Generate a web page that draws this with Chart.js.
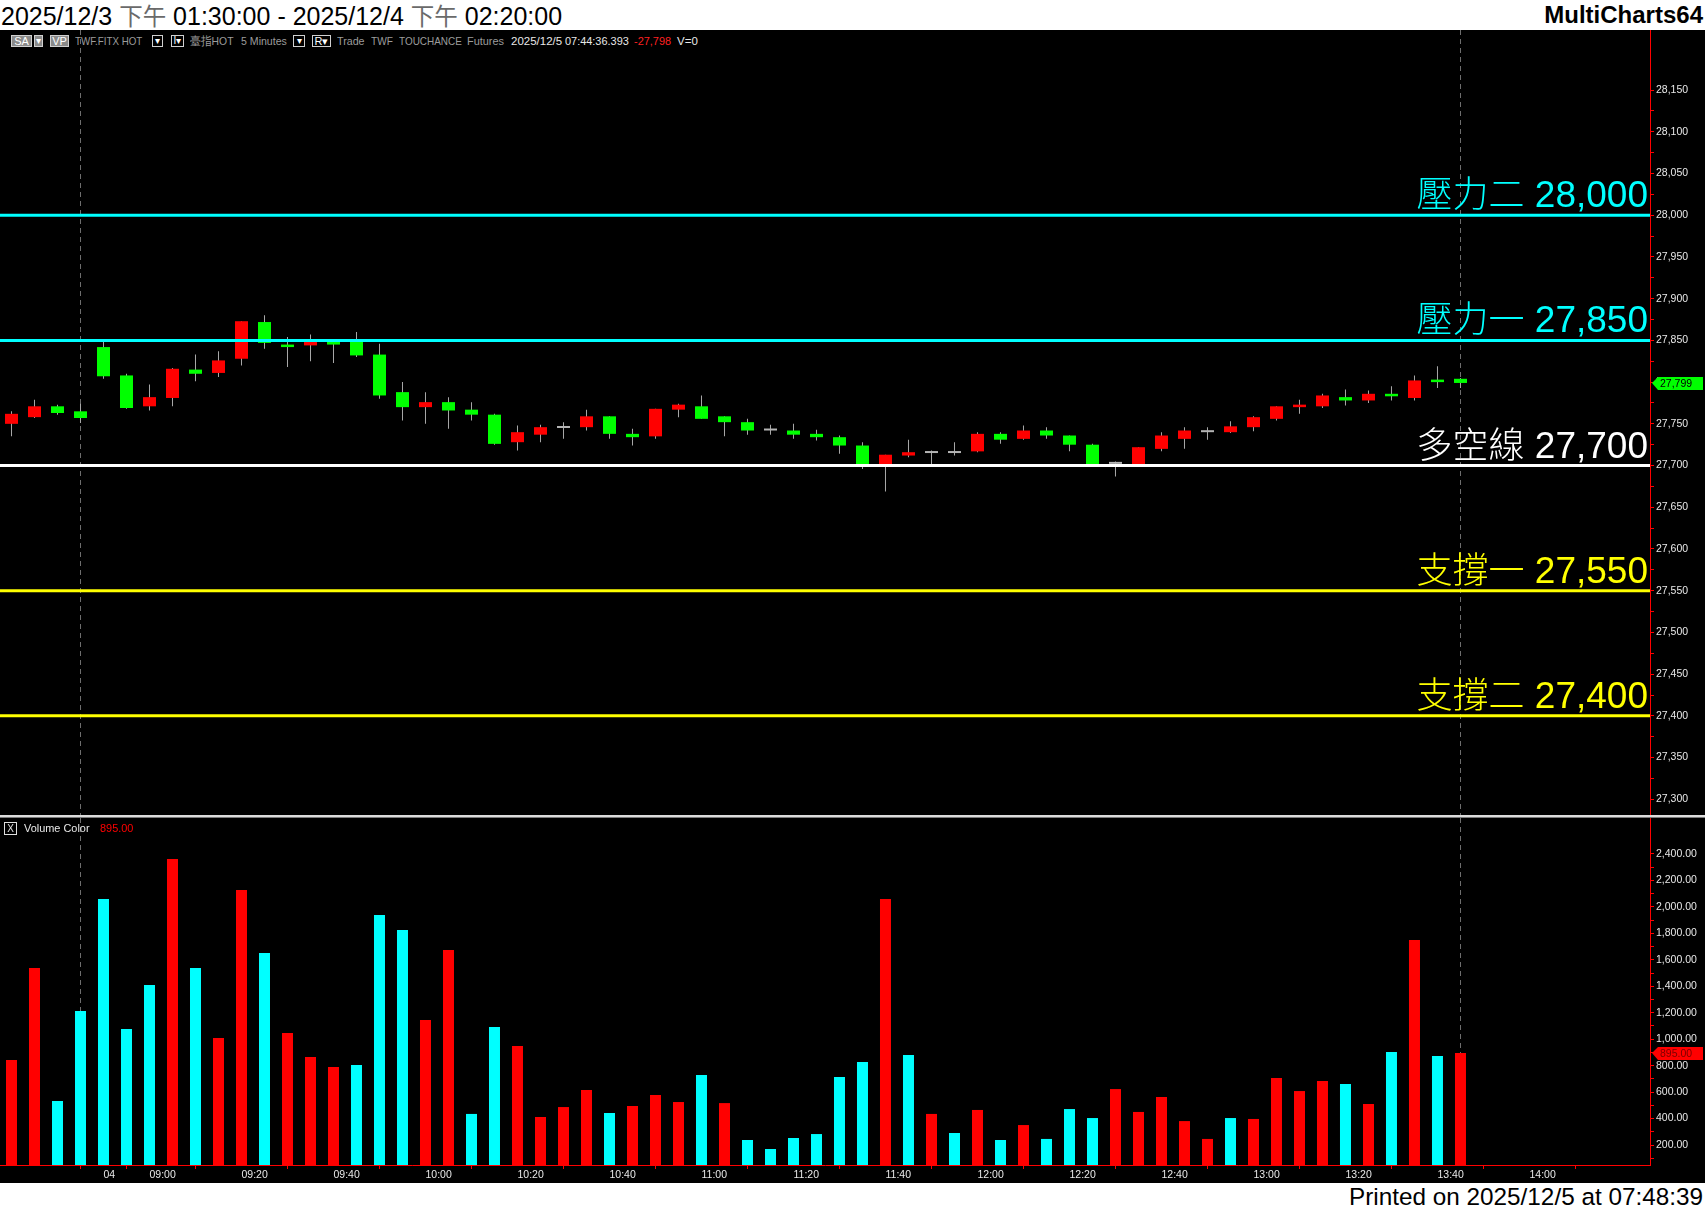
<!DOCTYPE html>
<html>
<head>
<meta charset="utf-8">
<title>TWF.FITX HOT 5 Minutes</title>
<script src="https://cdn.jsdelivr.net/npm/chart.js@4.4.1/dist/chart.umd.min.js"></script>
<style>
  html, body { margin: 0; padding: 0; background: #fff; }
  body { position: relative; width: 1705px; height: 1211px; overflow: hidden; font-family: 'Liberation Sans', Arial, sans-serif; }
  .abs { position: absolute; white-space: nowrap; }
  #title { left: 1px; top: 0; line-height: 30px; font-size: 25px; color: #000; }
  #title .cjk { font-family: 'Noto Sans CJK TC', sans-serif; font-size: 23.5px; color: #6a6a6a; }
  #brand { right: 2px; top: 0; line-height: 30px; font-size: 24px; font-weight: bold; color: #000; }
  #screen { left: 0; top: 30px; width: 1705px; height: 1153px; background: #000; }
  #footer { right: 2px; top: 1183px; line-height: 27px; font-size: 24.3px; color: #000; }
  .info { top: 35px; height: 12px; line-height: 12px; font-size: 11.5px; color: #9c9c9c;
          transform: scaleX(var(--s, 1)); transform-origin: 0 50%; }
  .info.hi { color: #e8e8e8; }
  .box { top: 35px; height: 10px; line-height: 10px; font-size: 10px; text-align: center; color: #fff; border: 1px solid #d0d0d0; }
  .box.grey { background: #8a8a8a; }
  #sep1 { left: 0; top: 815px; width: 1705px; height: 2px; background: #dcdcdc; }
  #sep2 { left: 0; top: 817px; width: 1705px; height: 1px; background: #7a7a7a; }
  canvas { position: absolute; left: 0; }
</style>
</head>
<body>
<div id="title" class="abs">2025/12/3 <span class="cjk">下午</span> 01:30:00 - 2025/12/4 <span class="cjk">下午</span> 02:20:00</div>
<div id="brand" class="abs">MultiCharts64</div>
<div id="screen" class="abs"></div>
<div id="footer" class="abs">Printed on 2025/12/5 at 07:48:39</div>

<div class="abs box grey" style="left:11px;width:19px;font-size:11px">SA</div>
<div class="abs box grey" style="left:34px;width:7px">▾</div>
<div class="abs box grey" style="left:50px;width:17px;font-size:11px">VP</div>
<div class="abs info" style="left:75px;--s:0.85">TWF.FITX HOT</div>
<div class="abs box" style="left:152px;width:9px">▾</div>
<div class="abs box" style="left:171px;width:11px">I▾</div>
<div class="abs info" style="left:190px;--s:0.9">臺指HOT</div>
<div class="abs info" style="left:241px;--s:0.92">5 Minutes</div>
<div class="abs box" style="left:293px;width:10px">▾</div>
<div class="abs box" style="left:312px;width:17px;font-size:11px">R▾</div>
<div class="abs info" style="left:337px;--s:0.93">Trade</div>
<div class="abs info" style="left:371px;--s:0.88">TWF</div>
<div class="abs info" style="left:399px;--s:0.865">TOUCHANCE</div>
<div class="abs info" style="left:467px;--s:0.95">Futures</div>
<div class="abs info hi" style="left:511px">2025/12/5</div>
<div class="abs info hi" style="left:565px;--s:0.95">07:44:36.393</div>
<div class="abs info" style="left:634px;--s:0.95;color:#ff2020">-27,798</div>
<div class="abs info hi" style="left:677px">V=0</div>

<canvas id="price" width="1705" height="785" style="top:30px"></canvas>
<div id="sep1" class="abs"></div>
<div id="sep2" class="abs"></div>
<canvas id="volume" width="1705" height="365" style="top:818px"></canvas>

<div class="abs" style="left:4px;top:822px;width:11px;height:11px;border:1px solid #e0e0e0;color:#e0e0e0;font-size:10px;line-height:11px;text-align:center">X</div>
<div class="abs info hi" style="left:24px;top:822px;--s:0.95">Volume Color</div>
<div class="abs info" style="left:100px;top:822px;--s:0.95;color:#ff0000">895.00</div>

<script>
// 5 分鐘 K 線 (bar 0..63)
const opens  = [27750, 27758, 27771, 27765, 27842, 27808, 27771, 27781, 27815, 27811,
                27828, 27872, 27845, 27844, 27849, 27849, 27833, 27788, 27770, 27776,
                27767, 27761, 27728, 27737, 27745, 27746, 27759, 27738, 27735, 27767,
                27771, 27759, 27752, 27742, 27742, 27738, 27734, 27724, 27701, 27712,
                27715, 27715, 27717, 27738, 27732, 27742, 27736, 27725, 27702, 27701,
                27720, 27732, 27740, 27740, 27746, 27756, 27770, 27771, 27782, 27778,
                27786, 27781, 27803, 27804];
const highs  = [27765, 27779, 27773, 27774, 27848, 27810, 27797, 27817, 27833, 27837,
                27873, 27880, 27854, 27857, 27851, 27860, 27846, 27800, 27788, 27782,
                27776, 27762, 27748, 27749, 27752, 27767, 27759, 27744, 27768, 27774,
                27784, 27759, 27756, 27749, 27750, 27743, 27736, 27728, 27713, 27731,
                27718, 27728, 27740, 27740, 27748, 27746, 27736, 27726, 27705, 27722,
                27740, 27746, 27746, 27753, 27759, 27771, 27779, 27786, 27791, 27790,
                27795, 27808, 27819, 27805];
const lows   = [27735, 27757, 27761, 27751, 27804, 27768, 27766, 27771, 27801, 27806,
                27820, 27840, 27818, 27825, 27823, 27830, 27780, 27754, 27750, 27744,
                27754, 27725, 27718, 27728, 27732, 27742, 27732, 27724, 27732, 27758,
                27756, 27735, 27737, 27737, 27732, 27730, 27714, 27696, 27669, 27710,
                27702, 27712, 27716, 27726, 27731, 27732, 27717, 27699, 27687, 27700,
                27717, 27720, 27731, 27739, 27741, 27754, 27762, 27769, 27772, 27775,
                27778, 27778, 27793, 27793];
const closes = [27762, 27771, 27763, 27757, 27807, 27769, 27782, 27816, 27810, 27826,
                27873, 27847, 27842, 27849, 27845, 27832, 27784, 27770, 27776, 27766,
                27761, 27726, 27740, 27746, 27745, 27759, 27738, 27734, 27768, 27773,
                27756, 27752, 27742, 27742, 27737, 27734, 27724, 27700, 27713, 27716,
                27715, 27715, 27738, 27731, 27742, 27736, 27725, 27700, 27702, 27722,
                27736, 27742, 27740, 27747, 27758, 27771, 27773, 27784, 27778, 27786,
                27783, 27802, 27800, 27799];

const volumes = [843, 1538, 533, 1213, 2060, 1077, 1410, 2362, 1538, 1009,
                 2128, 1652, 1047, 866, 790, 805, 1939, 1826, 1145, 1674,
                 435, 1092, 949, 412, 487, 616, 442, 495, 578, 525,
                 729, 517, 238, 170, 253, 283, 714, 828, 2060, 881,
                 435, 291, 465, 238, 351, 246, 472, 404, 623, 450,
                 563, 381, 246, 404, 397, 707, 608, 684, 661, 510,
                 903, 1750, 873, 895];
// Volume Color: 1 = red, 0 = cyan
const volumeUp = [1, 1, 0, 0, 0, 0, 0, 1, 0, 1,
                  1, 0, 1, 1, 1, 0, 0, 0, 1, 1,
                  0, 0, 1, 1, 1, 1, 0, 1, 1, 1,
                  0, 1, 0, 0, 0, 0, 0, 0, 1, 0,
                  1, 0, 1, 0, 1, 0, 0, 0, 1, 1,
                  1, 1, 1, 0, 1, 1, 1, 1, 0, 1,
                  0, 1, 0, 1];

const timeTickBars   = [4, 6, 10, 14, 18, 22, 26, 30, 34, 38, 42, 46, 50, 54, 58, 62, 66];
const timeTickLabels = ['04', '09:00', '09:20', '09:40', '10:00', '10:20', '10:40', '11:00', '11:20',
                        '11:40', '12:00', '12:20', '12:40', '13:00', '13:20', '13:40', '14:00'];
const sessionMarks = [3, 63];

const levels      = [28000, 27850, 27700, 27550, 27400];
const levelNames  = ['壓力二', '壓力一', '多空線', '支撐一', '支撐二'];
const levelColors = ['#00ffff', '#00ffff', '#ffffff', '#ffff00', '#ffff00'];

// --- view ranges ---
const xMin = -0.5, xMax = 71.24;
const priceMin = 27281.2, priceMax = 28222;
const volMin = 49, volMax = 2672;

const FONT = "'Liberation Sans', Arial, sans-serif";
const AXIS_TEXT = '#e8e8e8';
const RED = '#ff0000', GREEN = '#00ff00', CYAN = '#00ffff', DOJI = '#b4b4b4';

const bodyColors = opens.map((o, i) => closes[i] > o ? RED : closes[i] < o ? GREEN : DOJI);

// dashed session lines
const sessionPlugin = {
    id: 'sessionLines',
    beforeDatasetsDraw(chart) {
        const {ctx, chartArea, scales} = chart;
        ctx.save();
        ctx.strokeStyle = '#6e6e6e';
        ctx.lineWidth = 1;
        ctx.setLineDash([5, 4]);
        sessionMarks.forEach(b => {
            const x = Math.round(scales.x.getPixelForValue(b)) + 0.5;
            ctx.beginPath();
            ctx.moveTo(x, chartArea.top);
            ctx.lineTo(x, chartArea.bottom);
            ctx.stroke();
        });
        ctx.restore();
    }
};

// price tag on the right axis
function drawTag(chart, value, text, bg, fg) {
    const {ctx, chartArea, scales} = chart;
    const y = Math.round(scales.y.getPixelForValue(value));
    const x0 = chartArea.right + 2;
    ctx.save();
    ctx.fillStyle = bg;
    ctx.beginPath();
    ctx.moveTo(x0, y);
    ctx.lineTo(x0 + 6, y - 6);
    ctx.lineTo(1703, y - 6);
    ctx.lineTo(1703, y + 7);
    ctx.lineTo(x0 + 6, y + 7);
    ctx.closePath();
    ctx.fill();
    ctx.fillStyle = fg;
    ctx.font = '10.5px ' + FONT;
    ctx.textBaseline = 'middle';
    ctx.textAlign = 'left';
    ctx.fillText(text, x0 + 8, y + 1);
    ctx.restore();
}

const levelLabelPlugin = {
    id: 'levelLabels',
    afterDatasetsDraw(chart) {
        const {ctx, chartArea, scales} = chart;
        ctx.save();
        ctx.textBaseline = 'alphabetic';
        ctx.textAlign = 'right';
        levels.forEach((lv, i) => {
            const y = scales.y.getPixelForValue(lv) - 8;
            const right = chartArea.right - 2;
            const num = lv.toLocaleString('en-US');
            ctx.fillStyle = levelColors[i];
            ctx.font = '37px ' + FONT;
            ctx.fillText(num, right, y);
            const shift = ctx.measureText(num).width + ctx.measureText(' ').width;
            ctx.font = "300 36px 'Noto Sans CJK TC', sans-serif";
            ctx.fillText(levelNames[i], right - shift, y);
        });
        ctx.restore();
    },
    afterDraw(chart) {
        const last = closes.length - 1;
        drawTag(chart, closes[last], closes[last].toLocaleString('en-US'), GREEN, '#000');
    }
};

const volumeTagPlugin = {
    id: 'volumeTag',
    afterDraw(chart) {
        const last = volumes.length - 1;
        drawTag(chart, volumes[last], volumes[last].toFixed(2), RED, '#7a0000');
    }
};

const rightAxis = (min, max, step, labelEvery, fmt, top) => ({
    position: 'right',
    min, max,
    afterFit: s => {
        s.width = 55;
        // labels sit inside the pane, no extra room above/below
        s.paddingTop = 0;
        s.paddingBottom = 0;
    },
    afterBuildTicks: s => { s.ticks = s.ticks.filter(t => t.value <= top); },
    border: {color: RED, width: 1},
    grid: {drawOnChartArea: false, color: RED, tickLength: 4},
    ticks: {
        stepSize: step, includeBounds: false, autoSkip: false, padding: 2,
        color: AXIS_TEXT, font: {family: FONT, size: 10.5},
        callback: v => v % labelEvery === 0 ? fmt(v) : ''
    }
});

Chart.defaults.animation = false;

// --- 上方 K 線 ---
new Chart(document.getElementById('price'), {
    type: 'bar',
    data: {
        datasets: [
            ...levels.map((lv, i) => ({
                type: 'line',
                data: [{x: xMin, y: lv}, {x: xMax, y: lv}],
                borderColor: levelColors[i],
                borderWidth: 3,
                pointRadius: 0,
                order: 0
            })),
            {
                data: opens.map((o, i) => ({x: i, y: [o, closes[i]]})),
                backgroundColor: bodyColors,
                maxBarThickness: 13,
                minBarLength: 2,
                grouped: false,
                order: 1
            },
            {
                data: lows.map((l, i) => ({x: i, y: [l, highs[i]]})),
                backgroundColor: '#a8a8a8',
                maxBarThickness: 1,
                grouped: false,
                order: 2
            }
        ]
    },
    options: {
        responsive: false,
        events: [],
        layout: {padding: 0},
        plugins: {legend: {display: false}, tooltip: {enabled: false}},
        scales: {
            x: {type: 'linear', min: xMin, max: xMax, offset: false, display: false},
            y: rightAxis(priceMin, priceMax, 25, 50, v => v.toLocaleString('en-US'), 28150)
        }
    },
    plugins: [sessionPlugin, levelLabelPlugin]
});

// --- 下方成交量 ---
new Chart(document.getElementById('volume'), {
    type: 'bar',
    data: {
        datasets: [{
            data: volumes.map((v, i) => ({x: i, y: v})),
            backgroundColor: volumeUp.map(u => u ? RED : CYAN),
            maxBarThickness: 11,
            grouped: false,
            clip: 0
        }]
    },
    options: {
        responsive: false,
        events: [],
        layout: {padding: 0},
        plugins: {legend: {display: false}, tooltip: {enabled: false}},
        scales: {
            x: {
                type: 'linear', min: xMin, max: xMax, offset: false,
                afterFit: s => { s.height = 18; },
                afterBuildTicks: s => { s.ticks = timeTickBars.map(b => ({value: b})); },
                border: {color: RED, width: 1},
                grid: {drawOnChartArea: false, color: RED, tickLength: 4},
                ticks: {
                    autoSkip: false, maxRotation: 0, align: 'start', padding: 0,
                    color: AXIS_TEXT, font: {family: FONT, size: 10.5},
                    callback: (v, i) => timeTickLabels[i]
                }
            },
            y: rightAxis(volMin, volMax, 100, 200,
                v => v.toLocaleString('en-US', {minimumFractionDigits: 2}), 2400)
        }
    },
    plugins: [sessionPlugin, volumeTagPlugin]
});
</script>
</body>
</html>
